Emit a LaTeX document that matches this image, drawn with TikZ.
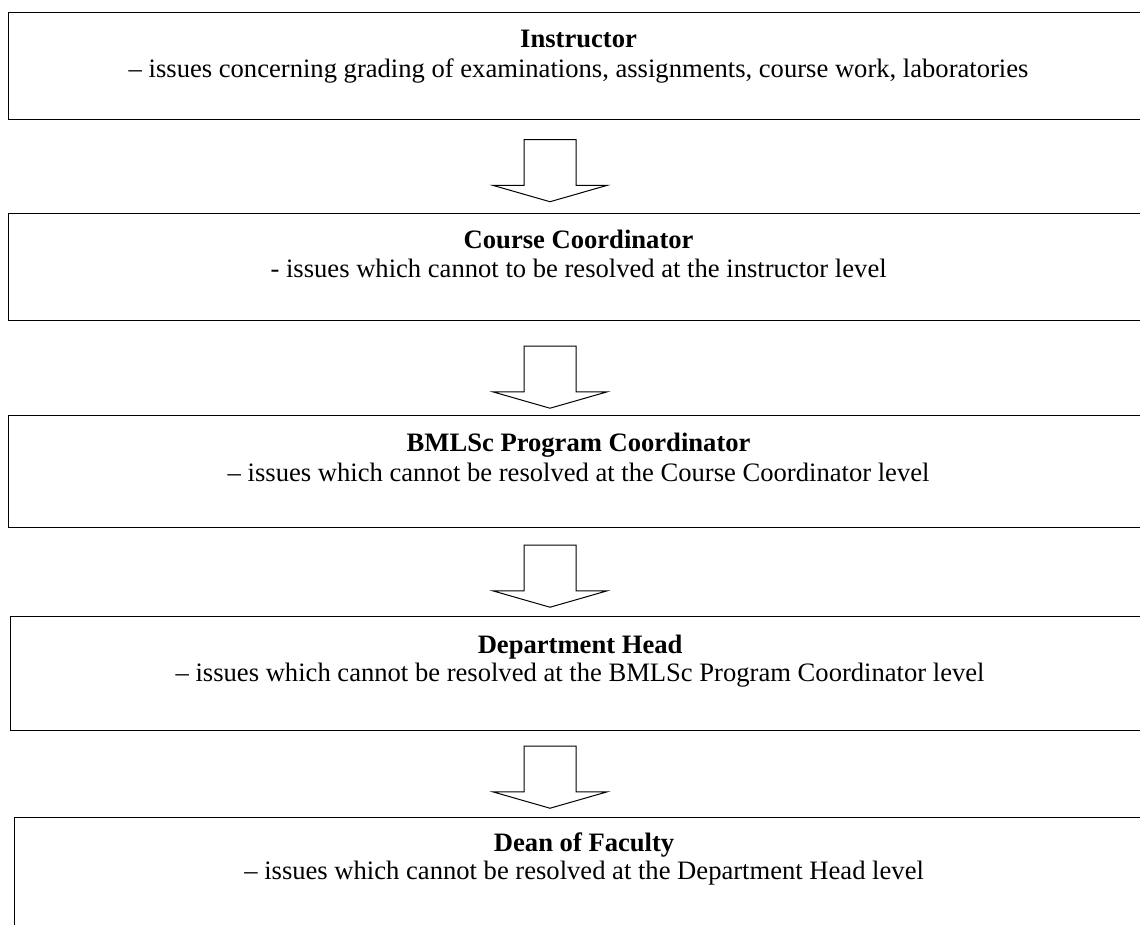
\documentclass[tikz,border=0pt]{standalone}
\usepackage{fontspec}
\setmainfont{Liberation Serif}
\usetikzlibrary{shapes.arrows,calc}

\newcommand{\levelfont}{\fontsize{13.3}{15}\selectfont}

\tikzset{
	level/.style={draw, line width=0.6pt, anchor=north west, minimum width=570pt, inner sep=0pt},
	head/.style={anchor=base, font=\levelfont\bfseries},
	issue/.style={anchor=base, font=\levelfont},
	bigarrow/.style={draw, line width=0.5pt, shape=single arrow, shape border rotate=270,
		minimum height=31pt, minimum width=56.5pt, single arrow head extend=15.5pt,
		single arrow tip angle=148, inner xsep=12.75pt, inner ysep=0pt},
}

\begin{document}
\begin{tikzpicture}[x=0.5pt, y=-0.5pt]
	\useasboundingbox (0,0) rectangle (1140,925);

	% levels
	\node[level, minimum height=53.5pt] at (8, 12)    (inst)   {};
	\node[level, minimum height=53.5pt] at (8, 213)   (course) {};
	\node[level, minimum height=56pt]   at (8, 415)   (prog)   {};
	\node[level, minimum height=57pt]   at (9.5, 616) (dept)   {};
	\node[level, minimum height=75pt]   at (13.5, 817) (dean)  {};

	% texts
	\node[head]  at ($(inst.north)+(0,36)$)   (instT)   {Instructor};
	\node[issue] at ($(instT.base)+(0,30)$)   (instS)   {– issues concerning grading of examinations, assignments, course work, laboratories};
	\node[head]  at ($(course.north)+(0,36)$) (courseT) {Course Coordinator};
	\node[issue] at ($(courseT.base)+(0,29)$) (courseS) {- issues which cannot to be resolved at the instructor level};
	\node[head]  at ($(prog.north)+(0,36)$)   (progT)   {BMLSc Program Coordinator};
	\node[issue] at ($(progT.base)+(0,30)$)   (progS)   {– issues which cannot be resolved at the Course Coordinator level};
	\node[head]  at ($(dept.north)+(0,37)$)   (deptT)   {Department Head};
	\node[issue] at ($(deptT.base)+(0,28)$)   (deptS)   {– issues which cannot be resolved at the BMLSc Program Coordinator level};
	\node[head]  at ($(dean.north)+(0,34)$)   (deanT)   {Dean of Faculty};
	\node[issue] at ($(deanT.base)+(0,28)$)   (deanS)   {– issues which cannot be resolved at the Department Head level};

	% draw arrows
	\node[bigarrow] at (550, 167)   (arr1) {};
	\node[bigarrow] at (550, 373.5) (arr2) {};
	\node[bigarrow] at (550, 572.5) (arr3) {};
	\node[bigarrow] at (550, 773.5) (arr4) {};

\end{tikzpicture}
\end{document}
